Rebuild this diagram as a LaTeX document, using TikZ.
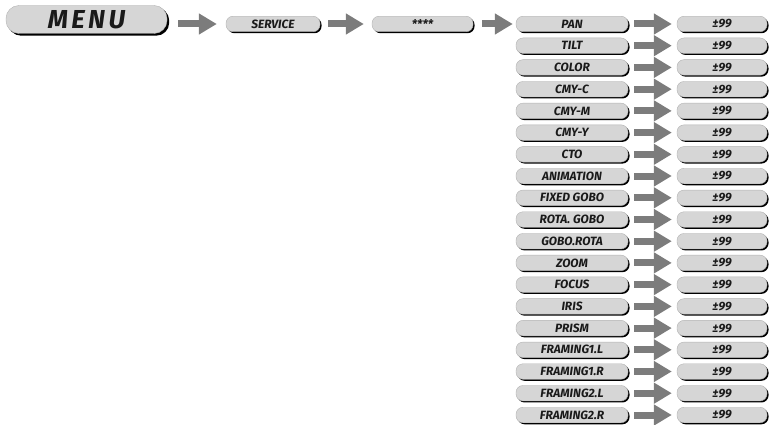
\documentclass[tikz,border=0pt]{standalone}
\usepackage{fontspec}
\setmainfont{Fira Sans}
\usetikzlibrary{arrows.meta,shadows}

\definecolor{boxgray}{HTML}{D6D6D6}
\definecolor{arrowgray}{HTML}{7C7C7C}
\definecolor{textdark}{HTML}{1A1A1A}

\tikzset{
  itembox/.style={draw=gray!60, fill=boxgray, rounded corners=7pt, inner sep=0pt,
    minimum height=15.5pt, text=textdark,
    font=\bfseries\itshape\fontsize{12}{12}\selectfont,
    drop shadow={shadow xshift=1.5pt, shadow yshift=-1.5pt, fill=black, opacity=1}},
  namebox/.style={itembox, minimum width=112pt},
  valbox/.style={itembox, minimum width=90pt},
  blockarrow/.style={draw=arrowgray, line width=7pt,
    -{Triangle[width=20pt,length=18pt]}},
}

\begin{document}
\begin{tikzpicture}[x=1pt,y=1pt]
\useasboundingbox (0,0) rectangle (770,424);
%\draw[step=10,gray,very thin] (0,0) grid (770,424); %background grid

\node[itembox, minimum width=161pt, minimum height=28pt, rounded corners=13pt,
  font=\bfseries\itshape\fontsize{26}{26}\selectfont\addfontfeature{LetterSpace=13},
  drop shadow={shadow xshift=2.2pt, shadow yshift=-2.2pt, fill=black, opacity=1}]
  (menu) at (86.5,404.5) {MENU};
\node[itembox, minimum width=94pt] (service) at (273,400) {SERVICE};
\node[itembox, minimum width=101pt] (code) at (422.5,400) {****};

\draw[blockarrow, shorten <=11pt, shorten >=9pt] (menu.east |- service.west) -- (service.west);
\draw[blockarrow, shorten <=8pt, shorten >=8pt] (service.east) -- (code.west);

% channel list
\node[namebox] (pan) at (572,400) {PAN};
\node[valbox] (vpan) at (722,400) {±99};
\draw[blockarrow, shorten <=6pt, shorten >=5pt] (pan) -- (vpan);
\draw[blockarrow, shorten <=9pt, shorten >=3pt] (code.east) -- (pan.west);

\node[namebox] (tilt) at (572,378.3) {TILT};
\node[valbox] (vtilt) at (722,378.3) {±99};
\draw[blockarrow, shorten <=6pt, shorten >=5pt] (tilt) -- (vtilt);

\node[namebox] (color) at (572,356.6) {COLOR};
\node[valbox] (vcolor) at (722,356.6) {±99};
\draw[blockarrow, shorten <=6pt, shorten >=5pt] (color) -- (vcolor);

\node[namebox] (cmyc) at (572,334.8) {CMY-C};
\node[valbox] (vcmyc) at (722,334.8) {±99};
\draw[blockarrow, shorten <=6pt, shorten >=5pt] (cmyc) -- (vcmyc);

\node[namebox] (cmym) at (572,313.1) {CMY-M};
\node[valbox] (vcmym) at (722,313.1) {±99};
\draw[blockarrow, shorten <=6pt, shorten >=5pt] (cmym) -- (vcmym);

\node[namebox] (cmyy) at (572,291.4) {CMY-Y};
\node[valbox] (vcmyy) at (722,291.4) {±99};
\draw[blockarrow, shorten <=6pt, shorten >=5pt] (cmyy) -- (vcmyy);

\node[namebox] (cto) at (572,269.7) {CTO};
\node[valbox] (vcto) at (722,269.7) {±99};
\draw[blockarrow, shorten <=6pt, shorten >=5pt] (cto) -- (vcto);

\node[namebox] (anim) at (572,248) {ANIMATION};
\node[valbox] (vanim) at (722,248) {±99};
\draw[blockarrow, shorten <=6pt, shorten >=5pt] (anim) -- (vanim);

\node[namebox] (fgobo) at (572,226.2) {FIXED GOBO};
\node[valbox] (vfgobo) at (722,226.2) {±99};
\draw[blockarrow, shorten <=6pt, shorten >=5pt] (fgobo) -- (vfgobo);

\node[namebox] (rgobo) at (572,204.5) {ROTA. GOBO};
\node[valbox] (vrgobo) at (722,204.5) {±99};
\draw[blockarrow, shorten <=6pt, shorten >=5pt] (rgobo) -- (vrgobo);

\node[namebox] (gobrot) at (572,182.8) {GOBO.ROTA};
\node[valbox] (vgobrot) at (722,182.8) {±99};
\draw[blockarrow, shorten <=6pt, shorten >=5pt] (gobrot) -- (vgobrot);

\node[namebox] (zoom) at (572,161.1) {ZOOM};
\node[valbox] (vzoom) at (722,161.1) {±99};
\draw[blockarrow, shorten <=6pt, shorten >=5pt] (zoom) -- (vzoom);

\node[namebox] (focus) at (572,139.4) {FOCUS};
\node[valbox] (vfocus) at (722,139.4) {±99};
\draw[blockarrow, shorten <=6pt, shorten >=5pt] (focus) -- (vfocus);

\node[namebox] (iris) at (572,117.6) {IRIS};
\node[valbox] (viris) at (722,117.6) {±99};
\draw[blockarrow, shorten <=6pt, shorten >=5pt] (iris) -- (viris);

\node[namebox] (prism) at (572,95.9) {PRISM};
\node[valbox] (vprism) at (722,95.9) {±99};
\draw[blockarrow, shorten <=6pt, shorten >=5pt] (prism) -- (vprism);

\node[namebox] (fr1l) at (572,74.2) {FRAMING1.L};
\node[valbox] (vfr1l) at (722,74.2) {±99};
\draw[blockarrow, shorten <=6pt, shorten >=5pt] (fr1l) -- (vfr1l);

\node[namebox] (fr1r) at (572,52.5) {FRAMING1.R};
\node[valbox] (vfr1r) at (722,52.5) {±99};
\draw[blockarrow, shorten <=6pt, shorten >=5pt] (fr1r) -- (vfr1r);

\node[namebox] (fr2l) at (572,30.8) {FRAMING2.L};
\node[valbox] (vfr2l) at (722,30.8) {±99};
\draw[blockarrow, shorten <=6pt, shorten >=5pt] (fr2l) -- (vfr2l);

\node[namebox] (fr2r) at (572,9) {FRAMING2.R};
\node[valbox] (vfr2r) at (722,9) {±99};
\draw[blockarrow, shorten <=6pt, shorten >=5pt] (fr2r) -- (vfr2r);

\end{tikzpicture}
\end{document}
